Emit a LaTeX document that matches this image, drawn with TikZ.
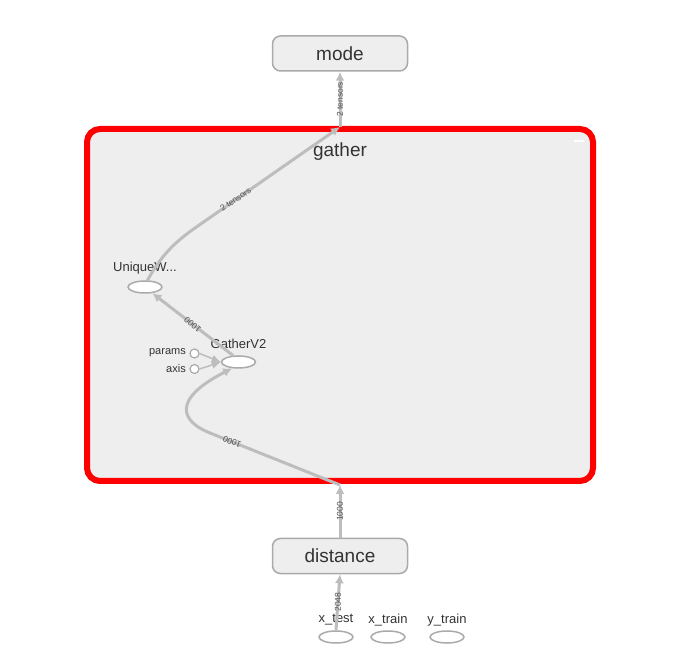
\documentclass[tikz,border=0pt]{standalone}
\usepackage{fontspec}
\setmainfont{Liberation Sans}
\usetikzlibrary{arrows.meta,shapes.geometric}
\definecolor{edgegray}{HTML}{BDBDBD}
\definecolor{boxgray}{HTML}{EEEEEE}
\definecolor{linegray}{HTML}{AAAAAA}
\definecolor{txtgray}{HTML}{333333}
\begin{document}
\begin{tikzpicture}[x=1pt,y=-1pt,
  op/.style={ellipse,draw=linegray,fill=white,line width=1.5pt,minimum width=34pt,minimum height=12pt,inner sep=0pt},
  port/.style={circle,draw=linegray,fill=white,line width=1.2pt,minimum size=9pt,inner sep=0pt},
  box/.style={draw=linegray,fill=boxgray,rounded corners=8pt,line width=1.5pt,minimum width=135pt,minimum height=35pt,text=txtgray,font=\fontsize{19}{19}\selectfont},
  oplbl/.style={text=txtgray,font=\fontsize{13}{13}\selectfont,inner sep=1pt},
  edge/.style={edgegray,line width=3pt,-{Latex[length=9pt,width=9pt]}},
  thinedge/.style={edgegray,line width=1.5pt,-{Latex[length=9pt,width=8pt]}},
  lbl/.style={text=txtgray!85,font=\fontsize{8.5}{8.5}\selectfont,inner sep=0pt}]
\path[fill=white] (0,0) rectangle (697,652);
\useasboundingbox (0,0) rectangle (697,652);
% group
\node[draw=red,line width=6pt,fill=boxgray,rounded corners=13pt,minimum width=506pt,minimum height=352pt] (gather) at (340,305) {};
\node[text=txtgray,font=\fontsize{19}{19}\selectfont] (gatherlbl) at (340,152) {gather};
\draw[white,line width=2pt] (574,141) -- (584,141);
\coordinate (gout) at (340,127);
\coordinate (gin) at (340,485);
\coordinate (bend1) at (210,433);
\coordinate (bend2) at (195,228);
% nodes
\node[box] (mode) at (340,53.5) {mode};
\node[box] (distance) at (340,556) {distance};
\node[op] (uw) at (145,287) {};
\node[oplbl] (uwlbl) at (145,268) {UniqueW...};
\node[op] (gv2) at (238.5,362) {};
\node[oplbl] (gv2lbl) at (238.5,344) {GatherV2};
\node[port] (params) at (194.5,353.5) {};
\node[port] (axis) at (194.5,369) {};
\node[oplbl,font=\fontsize{11}{11}\selectfont,anchor=east] (paramslbl) at (187,353) {params};
\node[oplbl,font=\fontsize{11}{11}\selectfont,anchor=east] (axislbl) at (187,369) {axis};
\foreach \n/\t/\x in {xtest/x\_test/336,xtrain/x\_train/388,ytrain/y\_train/447}{
  \node[op] (\n) at (\x,637) {};
  \node[oplbl] (\n lbl) at (\x,620) {\t};
}
% edges
\draw[edge] (xtest.north) -- (distance.south) node[lbl,midway,rotate=90]{2048};
\draw[edge] (distance.north) -- (gin) node[lbl,midway,rotate=90]{1000};
\draw[edge] (gin) -- (bend1) node[lbl,pos=.83,rotate=158]{1000}
  .. controls (182,422) and (170,400) .. (gv2.225);
\draw[edge] (gv2.130) -- (uw.-40) node[lbl,midway,rotate=140]{1000};
\draw[thinedge] (params.east) -- (gv2.180);
\draw[thinedge] (axis.east) -- (gv2.180);
\draw[edge] (uw.70) .. controls (160,258) and (172,244) .. (bend2)
  -- (gout) node[lbl,pos=.28,rotate=34]{2 tensors};
\draw[edge] (gout) -- (mode.south) node[lbl,midway,rotate=90]{2 tensors};
\end{tikzpicture}
\end{document}
